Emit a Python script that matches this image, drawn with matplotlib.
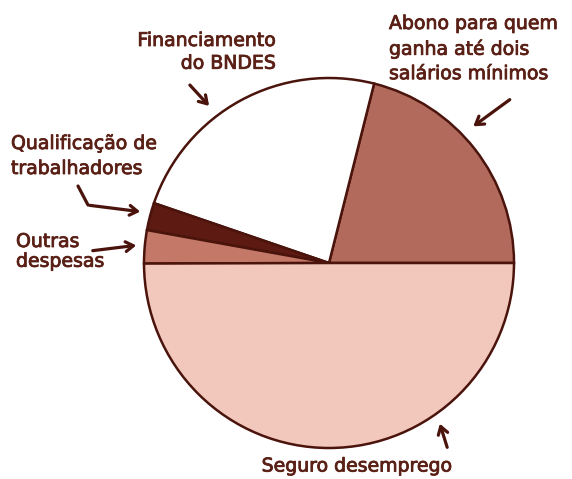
import matplotlib
matplotlib.use("Agg")
import matplotlib.pyplot as plt
import matplotlib.patheffects as pe

categories = ["Abono para quem\nganha até dois\nsalários mínimos", "Financiamento\ndo BNDES",
              "Qualificação de\ntrabalhadores", "Outras\ndespesas", "Seguro desemprego"]
values = [21.1, 23.7, 2.4, 2.9, 50.0]
colors = ["#b26a5d", "#ffffff", "#5c1a12", "#c47868", "#f2c8bd"]

txt = "#5a2016"
W, H = 572, 479
fig = plt.figure(figsize=(W / 100, H / 100), dpi=100)
ax = fig.add_axes([0, 0, 1, 1])

def P(x, y):
    return (x, H - y)

ax.pie(values, colors=colors, startangle=0, counterclock=True,
       center=P(329, 263), radius=185, frame=True,
       wedgeprops=dict(edgecolor="#4a140c", linewidth=1.8))
ax.set_xlim(0, W)
ax.set_ylim(0, H)
ax.set_aspect("equal")
ax.axis("off")

fs = 13.6
eff = [pe.withStroke(linewidth=0.6, foreground=txt)]
base = dict(fontsize=fs, color=txt, path_effects=eff)
ax.text(*P(389, 14), categories[0], ha="left", va="top", linespacing=1.36, **base)
ax.text(*P(276, 31), categories[1], ha="right", va="top", multialignment="right",
        linespacing=1.25, **base)
ax.text(*P(11, 134), categories[2], ha="left", va="top", linespacing=1.4, **base)
ax.text(*P(16, 232), categories[3], ha="left", va="top", linespacing=1.05, **base)
ax.text(*P(357, 466), categories[4], ha="center", va="center", **base)

ap = dict(arrowstyle="->,head_length=0.55,head_width=0.35", color="#4a140c", lw=2.3)
ax.annotate("", xy=P(211, 108), xytext=P(188, 83), arrowprops=ap)
ax.annotate("", xy=P(471, 128), xytext=P(512, 98), arrowprops=ap)
ax.plot([P(78, 186)[0], P(88, 205)[0]], [P(78, 186)[1], P(88, 205)[1]], color="#4a140c", lw=2.3,
        solid_capstyle="round")
ax.annotate("", xy=P(143, 212), xytext=P(87, 205), arrowprops=ap)
ax.annotate("", xy=P(139, 245), xytext=P(90, 251), arrowprops=ap)
ax.annotate("", xy=P(439, 421), xytext=P(448, 450), arrowprops=ap)

fig.savefig("out.png", dpi=100)
